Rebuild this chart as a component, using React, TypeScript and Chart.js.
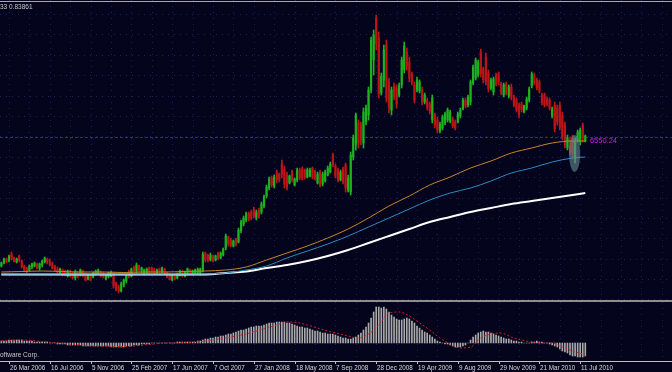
import React, { useEffect, useRef } from 'react';
import { Chart, registerables } from 'chart.js';
Chart.register(...registerables);

// ---- weekly candles (price units), one per week starting 5 Mar 2006 ----
const opens = [
  34,37,41,39,46,42,38,44,39,34,32,30,33,34,36,32,35,38,41,39,37,33,31,27,30,28,24,29,26,22,
  27,25,29,26,21,25,23,26,27,28,26,21,23,24,27,17,13,9,15,19,28,24,33,29,34,29,26,27,32,32,
  31,27,31,28,31,27,25,20,24,22,25,29,24,26,30,26,27,27,27,30,47,45,40,44,40,47,42,45,52,63,
  60,54,61,58,69,76,80,87,88,91,82,90,88,94,104,112,122,114,128,126,136,131,125,117,129,115,120,130,131,130,
  123,124,132,129,117,128,116,119,125,128,145,134,130,120,131,135,110,108,143,155,177,175,157,178,185,210,240,282,262,207,
  220,255,218,190,214,212,205,215,230,248,238,226,215,210,209,210,198,200,196,180,185,180,169,172,177,180,179,181,178,178,
  184,191,200,195,198,217,222,225,248,231,243,227,212,208,225,226,216,205,216,204,213,203,200,195,196,188,192,200,214,225,
  220,218,205,205,201,200,184,195,192,195,185,175,152,160,162,142,160,158,175,159
];
const highs = [
  38,42,42,45,48,43,42,45,40,35,33,35,37,38,37,37,40,43,42,41,38,35,33,32,31,30,30,30,28,30,
  28,31,30,27,26,26,28,30,31,29,28,25,28,29,28,18,15,18,21,25,30,32,34,37,35,33,31,32,33,33,
  32,31,32,33,32,28,26,25,25,27,30,30,29,32,31,30,31,32,32,48,48,46,47,45,45,48,48,52,66,64,
  62,60,62,72,80,84,88,88,90,93,90,92,98,105,115,123,124,125,130,127,140,134,128,125,130,122,132,132,133,131,
  132,132,133,130,128,130,128,130,134,138,147,136,132,130,133,137,125,148,165,187,180,178,192,195,213,263,270,285,268,227,
  255,260,222,213,217,215,217,243,258,252,243,228,218,223,220,213,207,202,198,205,187,183,178,185,188,192,190,183,180,188,
  192,202,202,205,220,235,242,240,251,233,247,230,222,223,227,228,218,217,218,215,216,205,202,197,198,195,203,213,228,227,
  222,220,207,207,203,202,193,198,195,198,188,178,165,163,165,162,170,172,177,165
];
const lows = [
  33,36,37,38,40,38,37,38,32,29,27,29,31,33,31,30,33,37,36,34,31,29,27,26,24,24,23,23,21,20,
  22,24,23,19,20,19,22,25,26,23,22,20,22,23,12,9,7,8,13,17,22,23,28,27,28,27,25,26,26,27,
  26,26,27,27,26,22,20,19,20,21,24,23,23,25,25,25,26,26,25,28,38,38,39,38,39,40,41,44,50,54,
  53,53,54,57,67,74,78,79,80,82,80,82,86,92,102,110,113,112,117,118,122,112,110,116,118,114,118,120,120,121,
  122,123,121,120,116,113,114,118,124,127,133,122,118,119,116,108,108,105,140,150,152,155,152,175,180,207,225,250,202,205,
  213,198,187,185,200,192,203,212,227,230,218,215,197,208,207,195,196,190,186,177,172,167,167,170,175,178,177,172,170,177,
  182,190,192,193,195,215,220,223,223,217,215,208,210,205,214,215,205,203,205,202,200,193,188,182,188,187,190,198,212,215,
  210,207,195,193,194,190,182,168,175,170,160,152,150,145,143,137,158,155,158,158
];
const closes = [
  37,41,38,44,41,39,41,40,33,30,28,34,36,37,32,36,39,42,38,35,32,30,28,31,25,25,29,24,22,28,
  23,30,24,20,25,20,27,29,30,24,23,24,27,28,14,11,9,16,20,24,24,31,29,35,30,32,30,31,27,28,
  27,30,28,32,27,23,21,24,21,26,29,24,28,31,26,29,30,31,31,46,40,40,45,39,44,41,47,51,64,56,
  55,59,56,70,78,82,86,81,82,84,88,84,96,103,113,121,115,123,120,120,126,116,113,124,120,121,130,122,122,123,
  130,130,123,121,126,115,126,128,132,136,135,124,120,128,118,112,122,145,162,185,157,160,188,192,210,260,265,256,206,224,
  250,202,192,210,203,196,214,240,254,234,222,218,200,220,218,198,205,193,189,202,175,170,176,183,186,190,188,174,172,186,
  190,200,194,203,218,233,240,238,226,220,218,211,220,221,216,218,207,215,207,213,203,195,190,185,190,194,201,211,226,217,
  212,209,197,195,196,192,191,171,178,173,163,155,162,148,147,158,168,170,162,164
];

// ---- moving averages, sampled every 8 weeks ----
const maWeeks = [0,8,16,24,32,40,48,56,64,72,80,88,96,104,112,120,128,136,144,152,160,168,176,184,192,200,208,216,224,229];
const maFast = [28,28.5,29,28.5,28,28,27.5,28,28,28.5,29,30,33,40,47,54,62,71,82,94,104,115,123,132,139,147,152,157,159,159];
const maMid = [26,26,26,26,26,26,26,26,26,26,26,27,30,34,42,49,56,64,73,82,91,100,107,112,119,127,132,138,142,143];
const maSlow = [25.5,25.5,25.5,25.5,25.5,25.5,25.5,25.5,25.5,25.5,25.5,27,28.5,32,35,39,44,50,57,64,71,78,83,88,92,96,99,102,105,107];

// ---- MACD ----
const macdHist = [
  2,2,2,3,3,3,3,3,3,2,2,2,
  2,1,1,1,1,1,1,0,0,0,-1,-1,
  -1,-1,-2,-2,-2,-2,-2,-2,-3,-3,-3,-3,
  -3,-3,-3,-3,-3,-3,-3,-4,-4,-4,-4,-4,
  -4,-3,-3,-3,-2,-2,-2,-1,-1,-1,-1,0,
  0,0,0,0,0,0,0,0,0,1,1,1,
  1,1,1,1,1,2,2,3,
  4,4,5,5,6,6,7,7,
  8,9,9,10,11,12,13,13,14,15,16,16,
  17,17,17,18,19,20,20,20,21,21,21,21,
  20,20,19,18,17,16,16,15,15,14,13,12,
  12,11,10,10,9,9,9,8,7,6,5,5,
  4,4,5,6,8,10,13,16,20,25,31,36,
  36,35,36,34,31,28,26,24,23,23,24,25,
  24,22,20,17,15,13,11,10,8,6,4,2,
  1,0,-1,-1,-2,-3,-4,-4,-4,-3,-2,0,
  3,6,8,10,11,12,11,11,10,9,8,7,
  6,5,4,4,3,2,2,1,1,0,0,0,
  1,1,2,1,1,0,0,-1,-2,-3,-4,-6,
  -8,-9,-10,-12,-13,-13,-14,-14,-14,-13
];
const signalWeeks = [0,4,8,12,16,20,24,28,32,36,40,44,48,52,56,60,64,68,72,76,80,84,88,92,96,100,104,108,112,116,120,124,128,132,136,140,144,148,152,156,160,164,168,172,176,180,184,188,192,196,200,204,208,212,216,220,224,228,229];
const signalValues = [2,2.5,3,2.5,1.5,0.5,-0.5,-1.5,-2,-3,-3,-3.5,-3.5,-3,-2,-1,0,0,0.5,1,2,3.5,5,7,9,12,15,18,21,20.5,18,15,12,9.5,7,5,9,18,30,31,27,20,13,5,-1,-5,-4,5,9,10,6,3,1,0,0,-4,-8,-11,-12];

// ---- axis / text ----
const tickWeeks = [3,19,35,51,67,83,99,115,131,147,163,179,195,211,227];
const tickLabels = ['26 Mar 2006','16 Jul 2006','5 Nov 2006','25 Feb 2007','17 Jun 2007','7 Oct 2007','27 Jan 2008','18 May 2008','7 Sep 2008','28 Dec 2008','19 Apr 2009','9 Aug 2009','29 Nov 2009','21 Mar 2010','11 Jul 2010'];
const gridWeeks = [3,11,19,27,35,43,51,59,67,75,83,91,99,107,115,123,131,139,147,155,163,171,179,187,195,203,211,219,227,235,243,251,259];
const priceGridLevels = [1,21,41,62,82,102,123,143,164,184,204,225,245,266,286];
const priceLine = 163.5;
const priceLineLabel = '6550.24';
const priceLabelWeek = 230.8;
const headerText = '33 0.83861';
const footerText = 'oftware Corp.';
const highlight = { week: 224.8, value: 146.5, halfWeeks: 2.2, halfValue: 18.5 };

const BG = '#04041c';
const GRID = '#1c1c62';
const GREEN = '#1eb21e';
const RED = '#bb1616';
const FONT = '"Liberation Sans", Arial, sans-serif';
const X_MIN = -0.53;
const X_MAX = 263;

export default function App() {
  const mainRef = useRef<HTMLCanvasElement>(null);
  const macdRef = useRef<HTMLCanvasElement>(null);

  useEffect(() => {
    document.body.style.margin = '0';
    document.body.style.background = BG;
    const weeks = opens.map((_, i) => i);
    const up = (i: number) => closes[i] >= opens[i];
    const colors = weeks.map((i) => (up(i) ? GREEN : RED));

    const mainDecor = {
      id: 'mainDecor',
      beforeDraw(chart: any) {
        const { ctx, width, height } = chart;
        ctx.save();
        ctx.fillStyle = BG;
        ctx.fillRect(0, 0, width, height);
        ctx.restore();
      },
      beforeDatasetsDraw(chart: any) {
        const { ctx, chartArea, scales } = chart;
        const x = scales.x, y = scales.y;
        ctx.save();
        ctx.strokeStyle = GRID;
        ctx.lineWidth = 1;
        ctx.setLineDash([1, 5]);
        ctx.beginPath();
        for (const lv of priceGridLevels) {
          const py = Math.round(y.getPixelForValue(lv)) + 0.5;
          ctx.moveTo(chartArea.left, py);
          ctx.lineTo(chartArea.right, py);
        }
        for (const w of gridWeeks) {
          const px = Math.round(x.getPixelForValue(w)) + 0.5;
          ctx.moveTo(px, chartArea.top);
          ctx.lineTo(px, chartArea.bottom);
        }
        ctx.stroke();
        ctx.strokeStyle = '#2a2aa8';
        ctx.setLineDash([3, 2]);
        ctx.beginPath();
        const py = Math.round(y.getPixelForValue(priceLine)) + 0.5;
        ctx.moveTo(chartArea.left, py);
        ctx.lineTo(chartArea.right, py);
        ctx.stroke();
        ctx.restore();
      },
      afterDatasetsDraw(chart: any) {
        const { ctx, width, scales } = chart;
        const x = scales.x, y = scales.y;
        ctx.save();
        const cx = x.getPixelForValue(highlight.week);
        const cy = y.getPixelForValue(highlight.value);
        const rx = Math.abs(x.getPixelForValue(highlight.week + highlight.halfWeeks) - cx);
        const ry = Math.abs(y.getPixelForValue(highlight.value + highlight.halfValue) - cy);
        ctx.fillStyle = 'rgba(100,140,150,0.6)';
        ctx.beginPath();
        ctx.ellipse(cx, cy, rx, ry, 0, 0, Math.PI * 2);
        ctx.fill();
        ctx.fillStyle = '#d020d0';
        ctx.font = '7.5px ' + FONT;
        ctx.textBaseline = 'alphabetic';
        ctx.fillText(priceLineLabel, x.getPixelForValue(priceLabelWeek), y.getPixelForValue(priceLine) + 6);
        ctx.fillStyle = '#a8a8a8';
        ctx.fillRect(0, 1, width, 1);
        ctx.fillStyle = '#c8c8c8';
        ctx.font = '6.5px ' + FONT;
        ctx.fillText(headerText, 0, 9);
        ctx.restore();
      },
    };

    const main = new Chart(mainRef.current as HTMLCanvasElement, {
      type: 'bar',
      data: {
        datasets: [
          {
            type: 'bar',
            label: 'range',
            data: weeks.map((i) => ({ x: i, y: [lows[i], highs[i]] })) as any,
            backgroundColor: colors,
            barThickness: 1,
            grouped: false,
            order: 5,
          } as any,
          {
            type: 'bar',
            label: 'body',
            data: weeks.map((i) => ({ x: i, y: [Math.min(opens[i], closes[i]), Math.max(opens[i], closes[i])] })) as any,
            backgroundColor: colors,
            barThickness: 1.5,
            grouped: false,
            order: 4,
          } as any,
          {
            type: 'line',
            label: 'slow',
            data: maWeeks.map((w, k) => ({ x: w, y: maSlow[k] })),
            borderColor: '#ffffff',
            borderWidth: 2,
            pointRadius: 0,
            cubicInterpolationMode: 'monotone',
            order: 3,
          } as any,
          {
            type: 'line',
            label: 'mid',
            data: maWeeks.map((w, k) => ({ x: w, y: maMid[k] })),
            borderColor: '#2a8cc0',
            borderWidth: 1,
            pointRadius: 0,
            cubicInterpolationMode: 'monotone',
            order: 2,
          } as any,
          {
            type: 'line',
            label: 'fast',
            data: maWeeks.map((w, k) => ({ x: w, y: maFast[k] })),
            borderColor: '#c4862a',
            borderWidth: 1,
            pointRadius: 0,
            cubicInterpolationMode: 'monotone',
            order: 1,
          } as any,
        ],
      },
      options: {
        animation: false,
        responsive: false,
        devicePixelRatio: 1,
        events: [],
        layout: { padding: 0 },
        plugins: { legend: { display: false }, tooltip: { enabled: false } },
        scales: {
          x: { type: 'linear', min: X_MIN, max: X_MAX, display: false, offset: false },
          y: { type: 'linear', min: 0, max: 300, display: false },
        },
      } as any,
      plugins: [mainDecor],
    });

    const macdDecor = {
      id: 'macdDecor',
      beforeDraw(chart: any) {
        const { ctx, width, height } = chart;
        ctx.save();
        ctx.fillStyle = BG;
        ctx.fillRect(0, 0, width, height);
        ctx.fillStyle = '#8e8e8e';
        ctx.fillRect(0, 0, width, 2);
        ctx.restore();
      },
      beforeDatasetsDraw(chart: any) {
        const { ctx, chartArea, scales } = chart;
        const x = scales.x;
        ctx.save();
        ctx.strokeStyle = GRID;
        ctx.lineWidth = 1;
        ctx.setLineDash([1, 5]);
        ctx.beginPath();
        for (const w of gridWeeks) {
          const px = Math.round(x.getPixelForValue(w)) + 0.5;
          ctx.moveTo(px, chartArea.top);
          ctx.lineTo(px, chartArea.bottom);
        }
        ctx.stroke();
        ctx.restore();
      },
      afterDatasetsDraw(chart: any) {
        const { ctx, width, chartArea, scales } = chart;
        const x = scales.x;
        ctx.save();
        const axisY = chartArea.bottom;
        ctx.fillStyle = '#c0c0c0';
        ctx.fillRect(0, axisY, width, 1);
        ctx.font = '6.3px ' + FONT;
        ctx.textBaseline = 'alphabetic';
        ctx.textAlign = 'left';
        tickWeeks.forEach((w, k) => {
          const px = Math.round(x.getPixelForValue(w));
          ctx.fillStyle = '#c0c0c0';
          ctx.fillRect(px, axisY, 1, 3);
          ctx.fillStyle = '#d8d8d8';
          ctx.fillText(tickLabels[k], px + 1, axisY + 9);
        });
        ctx.fillStyle = '#c8c8c8';
        ctx.font = '6.5px ' + FONT;
        ctx.fillText(footerText, 0, axisY - 4);
        ctx.restore();
      },
    };

    const macd = new Chart(macdRef.current as HTMLCanvasElement, {
      type: 'bar',
      data: {
        datasets: [
          {
            type: 'bar',
            label: 'macd',
            data: weeks.map((i) => ({ x: i, y: macdHist[i] })),
            backgroundColor: '#aaaaaa',
            barThickness: 1,
            grouped: false,
            order: 2,
          } as any,
          {
            type: 'line',
            label: 'signal',
            data: signalWeeks.map((w, k) => ({ x: w, y: signalValues[k] })),
            borderColor: '#d42020',
            borderWidth: 1,
            borderDash: [2, 2],
            pointRadius: 0,
            cubicInterpolationMode: 'monotone',
            order: 1,
          } as any,
        ],
      },
      options: {
        animation: false,
        responsive: false,
        devicePixelRatio: 1,
        events: [],
        layout: { padding: { top: 2, bottom: 11, left: 0, right: 0 } },
        plugins: { legend: { display: false }, tooltip: { enabled: false } },
        scales: {
          x: { type: 'linear', min: X_MIN, max: X_MAX, display: false, offset: false },
          y: { type: 'linear', min: -18, max: 41, display: false },
        },
      } as any,
      plugins: [macdDecor],
    });

    return () => {
      main.destroy();
      macd.destroy();
    };
  }, []);

  return (
    <div style={{ position: 'relative', width: 672, height: 372, background: BG, overflow: 'hidden' }}>
      <canvas ref={mainRef} width={672} height={300} style={{ position: 'absolute', left: 0, top: 0, width: 672, height: 300 }} />
      <canvas ref={macdRef} width={672} height={72} style={{ position: 'absolute', left: 0, top: 300, width: 672, height: 72 }} />
    </div>
  );
}
